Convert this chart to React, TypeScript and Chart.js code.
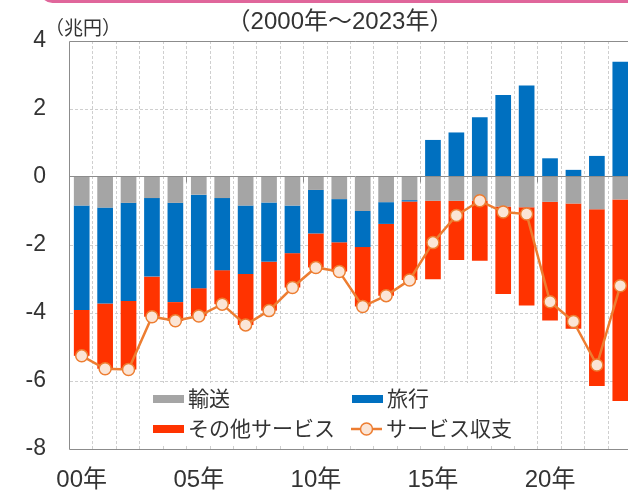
import React, { useEffect, useRef } from 'react';
import { Chart, registerables } from 'chart.js';

Chart.register(...registerables);

// ---------- data ----------
const years = [
  2000, 2001, 2002, 2003, 2004, 2005, 2006, 2007, 2008, 2009, 2010, 2011,
  2012, 2013, 2014, 2015, 2016, 2017, 2018, 2019, 2020, 2021, 2022, 2023,
];
const xTickLabels = [
  '00年', '', '', '', '', '05年', '', '', '', '', '10年', '',
  '', '', '', '15年', '', '', '', '', '20年', '', '', '',
];
const transport = [
  -0.84, -0.9, -0.76, -0.62, -0.76, -0.52, -0.62, -0.84, -0.75, -0.84, -0.38, -0.65,
  -1.0, -0.74, -0.68, -0.7, -0.7, -0.7, -0.87, -0.89, -0.73, -0.78, -0.95, -0.66,
];
const travel = [
  -3.07, -2.82, -2.89, -2.31, -2.92, -2.75, -2.12, -2.01, -1.74, -1.4, -1.28, -1.27,
  -1.06, -0.64, -0.04, 1.09, 1.31, 1.76, 2.41, 2.69, 0.55, 0.21, 0.62, 3.39,
];
const otherServices = [
  -1.35, -1.92, -2.01, -1.18, -0.55, -0.82, -1.0, -1.5, -1.44, -1.01, -1.0, -0.86,
  -1.75, -2.11, -2.31, -2.31, -1.74, -1.76, -2.57, -2.89, -3.49, -3.68, -5.2, -5.93,
];
const serviceBalance = [
  -5.26, -5.64, -5.66, -4.11, -4.23, -4.09, -3.74, -4.35, -3.93, -3.25, -2.66, -2.78,
  -3.81, -3.49, -3.03, -1.93, -1.13, -0.7, -1.03, -1.09, -3.67, -4.25, -5.53, -3.2,
];
const seriesNames = ['輸送', '旅行', 'その他サービス', 'サービス収支'];
const yTickValues = [4, 2, 0, -2, -4, -6, -8];
const titleText = '（2000年～2023年）';
const unitText = '（兆円）';

// ---------- styling ----------
const W = 640;
const H = 492;
const CJK = '"Noto Sans CJK JP", sans-serif';
const NUM = '"Liberation Sans", "Noto Sans CJK JP", sans-serif';
const TEXT = '#333333';
const AXIS = '#8c8c8c';
const GRID = '#cfcfcf';
const C_GRAY = '#a5a5a5';
const C_BLUE = '#0070c0';
const C_RED = '#ff3300';
const C_ORANGE = '#ed7d31';
const C_PEACH = '#fbe5d6';

const yMax = Math.max(...yTickValues);
const yMin = Math.min(...yTickValues);

const chromePlugin = {
  id: 'chrome',
  beforeDatasetsDraw(chart: any) {
    const { ctx, chartArea: a, scales } = chart;
    const y = scales.y;
    const n = chart.data.labels.length;
    const w = (a.right - a.left) / n;
    ctx.save();
    ctx.lineWidth = 1;
    ctx.strokeStyle = GRID;
    ctx.setLineDash([3, 2]);
    for (const t of yTickValues) {
      if (t === 0 || t === yMax || t === yMin) continue;
      const py = Math.round(y.getPixelForValue(t)) + 0.5;
      ctx.beginPath();
      ctx.moveTo(a.left, py);
      ctx.lineTo(a.right, py);
      ctx.stroke();
    }
    for (let k = 1; k <= n; k++) {
      const px = Math.round(a.left + k * w) - 0.5;
      ctx.beginPath();
      ctx.moveTo(px, a.top);
      ctx.lineTo(px, a.bottom);
      ctx.stroke();
    }
    ctx.setLineDash([]);
    ctx.strokeStyle = AXIS;
    const top = Math.round(a.top) + 0.5;
    const bot = Math.round(a.bottom) + 0.5;
    const left = Math.round(a.left) - 0.5;
    ctx.beginPath();
    ctx.moveTo(left, top);
    ctx.lineTo(a.right + 10, top);
    ctx.moveTo(left, bot);
    ctx.lineTo(a.right + 10, bot);
    ctx.moveTo(left, top);
    ctx.lineTo(left, bot);
    ctx.stroke();
    ctx.restore();
  },
  afterDatasetsDraw(chart: any) {
    const { ctx, chartArea: a, scales } = chart;
    const n = chart.data.labels.length;
    const w = (a.right - a.left) / n;
    const y0 = Math.round(scales.y.getPixelForValue(0)) - 0.5;
    ctx.save();
    ctx.lineWidth = 1;
    ctx.strokeStyle = AXIS;
    ctx.beginPath();
    ctx.moveTo(a.left, y0);
    ctx.lineTo(a.right + 10, y0);
    for (let k = 5; k < n; k += 5) {
      const px = Math.round(a.left + k * w) - 0.5;
      ctx.moveTo(px, y0);
      ctx.lineTo(px, y0 + 6);
    }
    ctx.stroke();
    ctx.restore();
  },
  afterDraw(chart: any) {
    const { ctx } = chart;
    ctx.save();
    // pink frame edge at the top
    ctx.strokeStyle = '#e0669b';
    ctx.lineWidth = 3;
    ctx.beginPath();
    (ctx as any).roundRect(41.5, -40, 700, 41.5, 11);
    ctx.stroke();

    // title and unit
    ctx.fillStyle = TEXT;
    ctx.textBaseline = 'middle';
    ctx.textAlign = 'center';
    ctx.font = `24px ${NUM}`;
    ctx.fillText(titleText, 340, 22);
    ctx.textAlign = 'left';
    ctx.font = `19px ${CJK}`;
    ctx.fillText(unitText, 45, 28);

    // legend
    ctx.fillStyle = '#ffffff';
    ctx.fillRect(143, 383, 394, 63);
    const pos = [
      [153, 399],
      [352, 399],
      [153, 429],
      [351, 429],
    ];
    chart.data.datasets.forEach((ds: any, i: number) => {
      const [x, cy] = pos[i];
      if (ds.type === 'line') {
        ctx.strokeStyle = ds.borderColor;
        ctx.lineWidth = 2.5;
        ctx.beginPath();
        ctx.moveTo(x, cy);
        ctx.lineTo(x + 31, cy);
        ctx.stroke();
        ctx.beginPath();
        ctx.arc(x + 15.5, cy, 6, 0, Math.PI * 2);
        ctx.fillStyle = ds.pointBackgroundColor;
        ctx.fill();
        ctx.lineWidth = 1.5;
        ctx.stroke();
      } else {
        ctx.fillStyle = ds.backgroundColor;
        ctx.fillRect(x, cy - 4, 31, 8);
      }
      ctx.fillStyle = TEXT;
      ctx.font = `21px ${CJK}`;
      ctx.textAlign = 'left';
      ctx.textBaseline = 'middle';
      ctx.fillText(ds.label, x + 35, cy - 0.5);
    });
    ctx.restore();
  },
};

export default function App() {
  const ref = useRef<HTMLCanvasElement>(null);

  useEffect(() => {
    const canvas = ref.current;
    if (!canvas) return;
    const barCommon = {
      type: 'bar' as const,
      stack: 'bars',
      order: 1,
      borderWidth: 0,
      barPercentage: 0.67,
      categoryPercentage: 1,
    };
    const chart = new Chart(canvas, {
      type: 'bar',
      data: {
        labels: years,
        datasets: [
          { ...barCommon, label: seriesNames[0], data: transport, backgroundColor: C_GRAY },
          { ...barCommon, label: seriesNames[1], data: travel, backgroundColor: C_BLUE },
          { ...barCommon, label: seriesNames[2], data: otherServices, backgroundColor: C_RED },
          {
            type: 'line',
            label: seriesNames[3],
            data: serviceBalance,
            stack: 'line',
            order: 0,
            borderColor: C_ORANGE,
            borderWidth: 2.5,
            backgroundColor: C_PEACH,
            pointBackgroundColor: C_PEACH,
            pointBorderColor: C_ORANGE,
            pointBorderWidth: 1.5,
            pointRadius: 6,
            tension: 0,
          } as any,
        ],
      },
      options: {
        responsive: false,
        animation: false,
        devicePixelRatio: 1,
        events: [],
        layout: { padding: { left: 0, top: 41, right: 8, bottom: 0 } },
        plugins: {
          legend: { display: false },
          tooltip: { enabled: false },
          title: { display: false },
        },
        scales: {
          x: {
            type: 'category',
            stacked: true,
            offset: true,
            grid: { display: false, drawTicks: false },
            border: { display: false },
            ticks: {
              autoSkip: false,
              maxRotation: 0,
              minRotation: 0,
              padding: 17,
              color: TEXT,
              font: { family: NUM, size: 24 },
              callback: (_v: any, i: number) => xTickLabels[i],
            },
            afterFit: (s: any) => {
              s.height = 43;
              s.paddingLeft = 0;
              s.paddingRight = 0;
            },
          },
          y: {
            stacked: true,
            min: yMin,
            max: yMax,
            grid: { display: false, drawTicks: false },
            border: { display: false },
            ticks: {
              stepSize: 2,
              padding: 24,
              color: TEXT,
              font: { family: NUM, size: 23 },
            },
            afterFit: (s: any) => {
              s.width = 70;
              s.paddingTop = 0;
              s.paddingBottom = 0;
            },
          },
        },
      } as any,
      plugins: [chromePlugin],
    });
    return () => chart.destroy();
  }, []);

  return (
    <div
      style={{
        position: 'absolute',
        left: 0,
        top: 0,
        width: 628,
        height: 492,
        overflow: 'hidden',
        background: '#ffffff',
      }}
    >
      <canvas ref={ref} width={W} height={H} style={{ display: 'block', width: W, height: H }} />
    </div>
  );
}
